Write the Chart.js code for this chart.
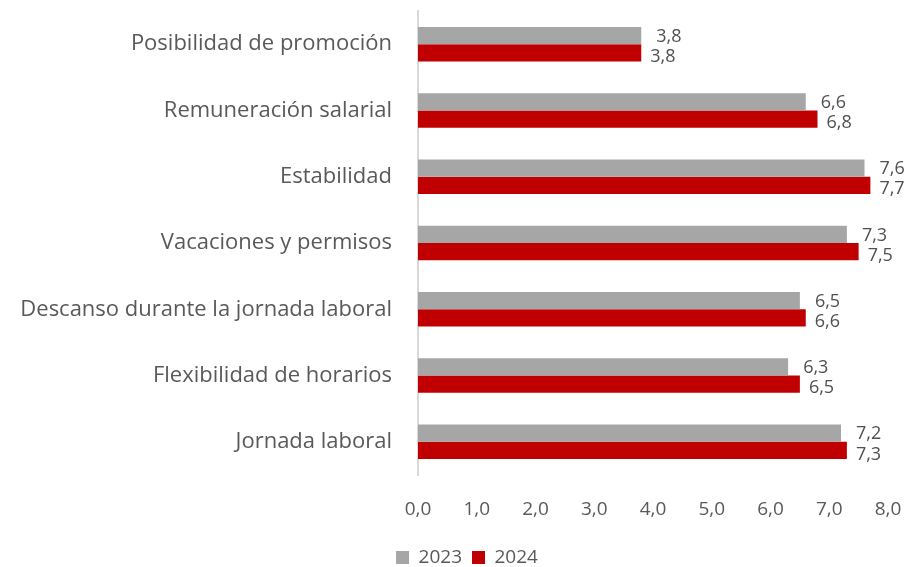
<!DOCTYPE html>
<html>
<head>
<meta charset="utf-8">
<script src="https://cdn.jsdelivr.net/npm/chart.js@4.4.1/dist/chart.umd.min.js"></script>
<style>
  html, body { margin: 0; padding: 0; background: #fff; }
  #wrap { width: 905px; height: 567px; }
</style>
</head>
<body>
<div id="wrap"><canvas id="chart"></canvas></div>
<script>
const categories = [
  "Posibilidad de promoción",
  "Remuneración salarial",
  "Estabilidad",
  "Vacaciones y permisos",
  "Descanso durante la jornada laboral",
  "Flexibilidad de horarios",
  "Jornada laboral"
];
const values2023 = [3.8, 6.6, 7.6, 7.3, 6.5, 6.3, 7.2];
const values2024 = [3.8, 6.8, 7.7, 7.5, 6.6, 6.5, 7.3];
const xTicks = [0, 1, 2, 3, 4, 5, 6, 7, 8];

const fontFamily = "'Open Sans', 'Noto Sans', sans-serif";
const fmt = v => v.toFixed(1).replace(".", ",");

// value labels next to each bar
const barLabels = {
  id: "barLabels",
  afterDatasetsDraw(chart) {
    const c = chart.ctx;
    c.save();
    c.font = "18px " + fontFamily;
    c.fillStyle = "#505050";
    c.textAlign = "left";
    c.textBaseline = "middle";
    chart.data.datasets.forEach((ds, i) => {
      const meta = chart.getDatasetMeta(i);
      meta.data.forEach((bar, j) => {
        const dx = i === 0 ? 15 : 9;
        const dy = i === 0 ? 1 : 4;
        c.fillText(fmt(ds.data[j]), bar.x + dx, bar.y + dy);
      });
    });
    c.restore();
  }
};

// legend sits a bit right of the canvas centre in the original
const shiftLegend = {
  id: "shiftLegend",
  afterLayout(chart) {
    chart.legend.left += 23;
    chart.legend.right += 23;
  }
};

const ctx = document.querySelector("#chart");

new Chart(ctx, {
  type: "bar",
  data: {
    labels: categories,
    datasets: [
      { label: "2023", data: values2023, backgroundColor: "#A6A6A6" },
      { label: "2024", data: values2024, backgroundColor: "#C00000" }
    ]
  },
  options: {
    indexAxis: "y",
    responsive: true,
    maintainAspectRatio: false,
    animation: false,
    layout: { padding: { top: 11, right: 17, left: 0, bottom: -10 } },
    datasets: {
      bar: { categoryPercentage: 0.52, barPercentage: 1.0 }
    },
    scales: {
      x: {
        min: 0,
        max: 8,
        afterBuildTicks: s => { s.ticks = xTicks.map(v => ({ value: v })); },
        afterFit: s => { s.paddingLeft = 0; s.paddingRight = 0; s.height = 63; },
        grid: { display: false },
        border: { display: false },
        ticks: {
          padding: 15,
          color: "#595959",
          font: { family: fontFamily, size: 19 },
          callback: v => fmt(v)
        }
      },
      y: {
        grid: { display: false },
        border: { display: true, color: "#D9D9D9", width: 2 },
        afterFit: s => { s.width = 418; s.paddingTop = 0; s.paddingBottom = 0; },
        ticks: {
          padding: 18,
          color: "#595959",
          font: { family: fontFamily, size: 22 }
        }
      }
    },
    plugins: {
      legend: {
        position: "bottom",
        labels: {
          boxWidth: 13,
          boxHeight: 13,
          padding: 10,
          color: "#595959",
          font: { family: fontFamily, size: 19 }
        }
      },
      tooltip: { enabled: false }
    }
  },
  plugins: [barLabels, shiftLegend]
});
</script>
</body>
</html>
